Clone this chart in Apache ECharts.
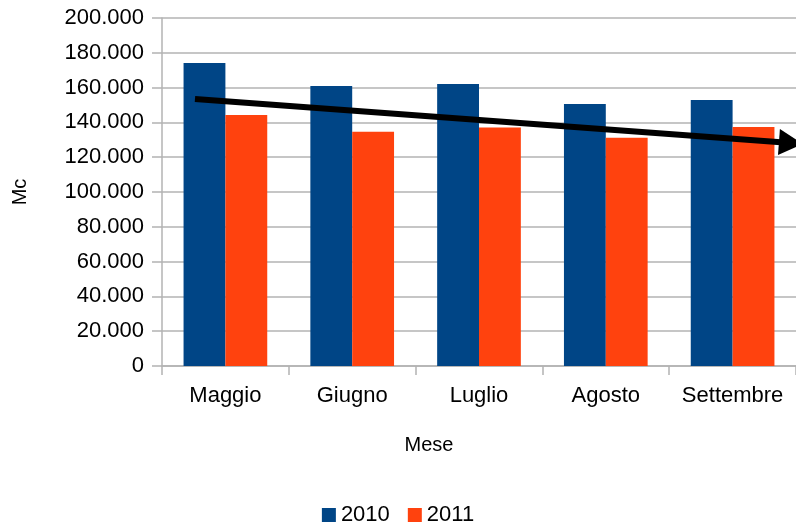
<!DOCTYPE html>
<html>
<head>
<meta charset="utf-8">
<script src="https://cdn.jsdelivr.net/npm/echarts@6/dist/echarts.min.js"></script>
<style>
  html, body { margin: 0; padding: 0; background: #fff; }
  #chart { width: 796px; height: 523px; }
</style>
</head>
<body>
<div id="chart"></div>
<script>
// dati
const months = ['Maggio', 'Giugno', 'Luglio', 'Agosto', 'Settembre'];
const values2010 = [174100, 160900, 162000, 150600, 152900];
const values2011 = [144200, 134600, 137000, 131200, 137400];
// freccia di tendenza: [posizione categoria, valore]
const trendStart = [-0.24, 153400];
const trendEnd = [4.46, 128200];

const gridColor = '#b3b3b3';
const font = 'Liberation Sans, Arial, sans-serif';

function fmt(v) {
    if (v === 0) return '0';
    return (v / 1000).toFixed(3);
}

const chart = echarts.init(document.getElementById('chart'));
chart.setOption({
    animation: false,
    textStyle: { fontFamily: font },
    grid: { left: 162, right: -6, top: 18, bottom: 157 },
    legend: {
        bottom: -8,
        left: 'center',
        itemWidth: 14,
        itemHeight: 14,
        itemGap: 18,
        icon: 'rect',
        textStyle: { fontSize: 22, color: '#000', fontFamily: font },
        data: ['2010', '2011']
    },
    xAxis: [
        {
            type: 'category',
            data: months,
            name: 'Mese',
            nameLocation: 'middle',
            nameGap: 69,
            nameTextStyle: { fontSize: 20, color: '#000', padding: [0, 100, 0, 0] },
            axisLine: { lineStyle: { color: gridColor, width: 1.5 } },
            axisTick: { show: true, interval: 0, length: 9, lineStyle: { color: gridColor, width: 1.5 } },
            axisLabel: { fontSize: 22, color: '#000', margin: 19, interval: 0 },
            splitLine: { show: false }
        },
        {
            type: 'value',
            show: false,
            min: -0.5,
            max: 4.5
        }
    ],
    yAxis: {
        type: 'value',
        min: 0,
        max: 200000,
        interval: 20000,
        name: 'Mc',
        nameLocation: 'middle',
        nameGap: 132,
        nameTextStyle: { fontSize: 20, color: '#000' },
        axisLine: { show: true, onZero: false, lineStyle: { color: gridColor, width: 1.5 } },
        axisTick: { show: true, length: 10, lineStyle: { color: gridColor, width: 1.5 } },
        axisLabel: { fontSize: 22, color: '#000', margin: 18, formatter: fmt },
        splitLine: { lineStyle: { color: gridColor, width: 1.5 } }
    },
    series: [
        {
            name: '2010',
            type: 'bar',
            data: values2010,
            barWidth: '33%',
            barGap: 0,
            itemStyle: { color: '#004586' }
        },
        {
            name: '2011',
            type: 'bar',
            data: values2011,
            barWidth: '33%',
            barGap: 0,
            itemStyle: { color: '#ff420e' }
        },
        {
            name: 'tendenza',
            type: 'line',
            xAxisIndex: 1,
            data: [],
            silent: true,
            markLine: {
                silent: true,
                symbol: ['none', 'triangle'],
                symbolSize: [26, 24],
                label: { show: false },
                lineStyle: { color: '#000', width: 6, type: 'solid' },
                emphasis: { disabled: true },
                data: [[{ coord: trendStart }, { coord: trendEnd }]]
            }
        }
    ]
});
</script>
</body>
</html>
